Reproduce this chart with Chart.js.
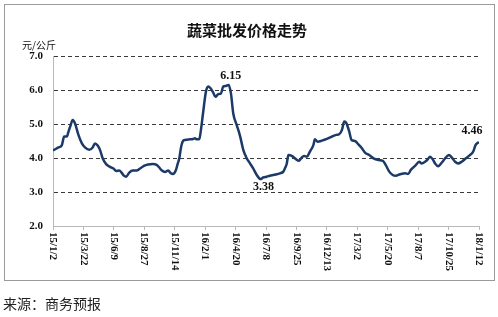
<!DOCTYPE html>
<html>
<head>
<meta charset="utf-8">
<script src="https://cdn.jsdelivr.net/npm/chart.js@4"></script>
<style>
html,body{margin:0;padding:0;background:#fff;}
canvas{display:block;}
</style>
</head>
<body>
<canvas id="c" width="498" height="317"></canvas>
<script>
const title = '蔬菜批发价格走势';
const unitLabel = '元/公斤';
const sourceText = '来源：商务预报';
const tickLabels = ['15/1/2','15/3/22','15/6/9','15/8/27','15/11/14','16/2/1','16/4/20','16/7/8','16/9/25','16/12/13','17/3/2','17/5/20','17/8/7','17/10/25','18/1/12'];
const tickStepDays = 79;
// days since 2015-01-02
const days = [0,14,23,29,36,40,46,51,57,66,75,83,94,103,109,116,122,129,138,148,157,164,172,178,184,190,198,207,217,226,236,247,259,269,276,282,291,299,306,311,319,324,328,332,337,343,356,364,369,373,380,384,390,397,403,409,416,422,429,436,442,449,456,462,468,477,486,494,503,511,520,529,539,546,555,563,572,581,589,598,602,607,611,620,628,639,646,652,659,667,676,680,687,698,711,724,735,743,750,756,762,769,775,784,793,801,810,821,832,845,857,864,873,882,890,901,914,922,929,940,951,957,966,973,979,986,992,1000,1009,1018,1028,1035,1044,1052,1061,1072,1083,1091,1097,1102,1106];
const prices = [4.22,4.31,4.38,4.63,4.63,4.77,4.97,5.12,5.02,4.68,4.43,4.31,4.24,4.31,4.43,4.37,4.24,3.99,3.82,3.74,3.69,3.62,3.63,3.57,3.48,3.45,3.57,3.63,3.63,3.69,3.77,3.81,3.82,3.80,3.72,3.64,3.59,3.63,3.55,3.53,3.64,3.84,3.99,4.29,4.49,4.53,4.55,4.56,4.58,4.55,4.56,4.82,5.36,5.95,6.10,6.05,5.92,5.80,5.88,5.90,6.10,6.12,6.15,5.90,5.31,4.97,4.63,4.24,3.99,3.85,3.69,3.50,3.38,3.43,3.45,3.48,3.50,3.52,3.55,3.60,3.69,3.84,4.09,4.06,3.99,3.92,4.02,4.06,4.04,4.19,4.38,4.55,4.48,4.51,4.56,4.63,4.68,4.70,4.82,5.07,5.02,4.78,4.53,4.50,4.40,4.30,4.16,4.09,3.99,3.94,3.91,3.79,3.60,3.50,3.48,3.52,3.55,3.53,3.65,3.77,3.89,3.84,3.89,3.96,4.04,3.96,3.84,3.76,3.86,3.99,4.09,4.02,3.89,3.84,3.89,3.99,4.09,4.19,4.38,4.44,4.46];
const yMin = 2.0, yMax = 7.0, yStep = 1.0;

const points = days.map((d, i) => ({x: d, y: prices[i]}));
const maxIdx = prices.indexOf(Math.max(...prices));
const minIdx = prices.indexOf(Math.min(...prices));
const lastIdx = prices.length - 1;

const decor = {
  id: 'decor',
  beforeDraw(chart) {
    const ctx = chart.ctx;
    ctx.save();
    ctx.fillStyle = '#fff';
    ctx.fillRect(0, 0, chart.width, chart.height);
    ctx.restore();
  },
  afterDraw(chart) {
    const ctx = chart.ctx;
    const xs = chart.scales.x, ys = chart.scales.y;
    ctx.save();
    ctx.strokeStyle = '#9a9a9a';
    ctx.lineWidth = 1;
    ctx.strokeRect(4.5, 4.5, 490, 276);
    ctx.fillStyle = '#111';
    ctx.font = 'bold 15px "Noto Sans CJK SC"';
    ctx.textAlign = 'center';
    ctx.textBaseline = 'middle';
    ctx.fillText(title, 247, 30);
    ctx.font = '10px "Noto Sans CJK SC"';
    ctx.textAlign = 'left';
    ctx.fillText(unitLabel, 22, 45);
    ctx.font = '14px "Noto Sans CJK SC"';
    ctx.fillStyle = '#222';
    ctx.fillText(sourceText, 3, 304);
    ctx.fillStyle = '#111';
    ctx.font = 'bold 11px "Liberation Serif"';
    tickLabels.forEach((t, i) => {
      const px = xs.getPixelForValue(i * tickStepDays);
      ctx.save();
      ctx.translate(px, 232);
      ctx.rotate(Math.PI / 2);
      ctx.textAlign = 'left';
      ctx.textBaseline = 'middle';
      ctx.fillText(t, 0, 0);
      ctx.restore();
    });
    ctx.font = 'bold 12px "Liberation Serif"';
    ctx.textAlign = 'center';
    ctx.textBaseline = 'middle';
    const lab = (i, dx, dy) => {
      const px = xs.getPixelForValue(days[i]);
      const py = ys.getPixelForValue(prices[i]);
      ctx.fillText(prices[i].toFixed(2), px + dx, py + dy);
    };
    lab(maxIdx, 2, -9);
    lab(minIdx, 3, 8);
    lab(lastIdx, -7, -11);
    ctx.restore();
  }
};

new Chart(document.getElementById('c'), {
  type: 'line',
  data: {
    datasets: [{
      data: points,
      borderColor: '#1c3a68',
      borderWidth: 2.5,
      pointRadius: 0,
      tension: 0.3,
      cubicInterpolationMode: 'monotone',
      fill: false
    }]
  },
  options: {
    responsive: false,
    animation: false,
    devicePixelRatio: 1,
    layout: {padding: {left: 0, right: 19, top: 56, bottom: 0}},
    plugins: {legend: {display: false}, tooltip: {enabled: false}, title: {display: false}},
    scales: {
      x: {
        type: 'linear',
        min: 0,
        max: 1106,
        ticks: {display: false, stepSize: tickStepDays},
        grid: {drawOnChartArea: false, drawTicks: true, tickLength: 4, color: '#b8b8b8'},
        border: {display: true, color: '#b8b8b8', width: 1},
        afterFit(s) { s.height = 91; }
      },
      y: {
        min: yMin,
        max: yMax,
        ticks: {
          stepSize: yStep,
          padding: 10,
          color: '#111',
          font: {family: 'Liberation Serif', weight: 'bold', size: 11},
          callback: v => v.toFixed(1)
        },
        grid: {
          drawTicks: false,
          color: c => (c.tick && c.tick.value === yMin) ? 'rgba(0,0,0,0)' : '#3a3a3a',
          lineWidth: 1
        },
        border: {display: true, color: '#b8b8b8', width: 1, dash: [4, 3]},
        afterFit(s) { s.width = 53; }
      }
    }
  },
  plugins: [decor]
});
</script>
</body>
</html>
